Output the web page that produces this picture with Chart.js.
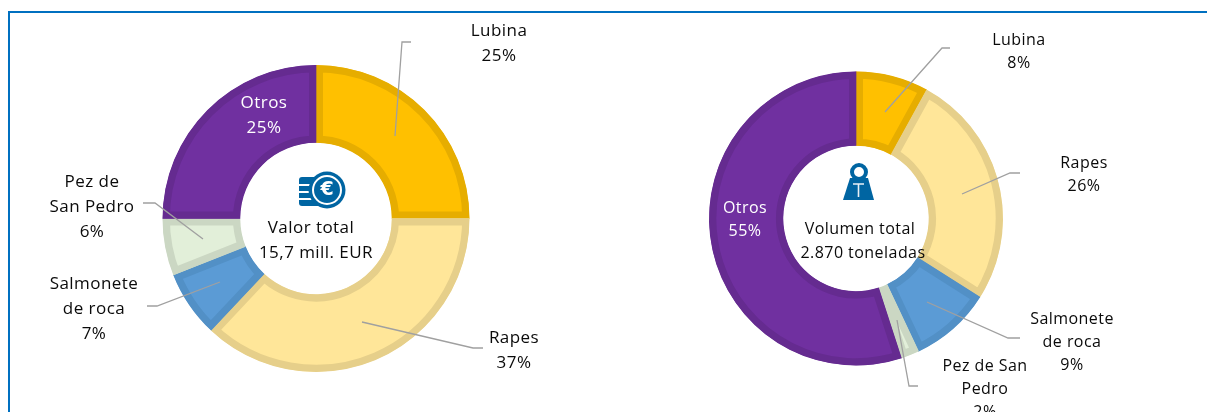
<!DOCTYPE html>
<html><head><meta charset="utf-8">
<script src="https://cdn.jsdelivr.net/npm/chart.js@4"></script>
<style>
html,body{margin:0;padding:0;background:#fff;overflow:hidden;width:1207px;height:412px}
#frame{position:absolute;left:8px;top:11px;right:-4px;bottom:-4px;border:2px solid #0070C0}
canvas{position:absolute;top:0}
#wa{position:absolute;left:0;top:0;width:604px;height:412px}
#wb{position:absolute;left:604px;top:0;width:603px;height:412px}
</style></head><body>
<div id="frame"></div>
<div id="wa"><canvas id="a"></canvas></div>
<div id="wb"><canvas id="b"></canvas></div>
<script>
const categories = ["Lubina","Rapes","Salmonete de roca","Pez de San Pedro","Otros"];
const valorValues = [25,37,7,6,25];
const volumenValues = [8,26,9,2,55];
const fillColors = ["#FFC000","#FFE699","#5B9BD5","#E2EFD9","#7030A0"];
const edgeColors = ["#E6AD00","#E6CF8A","#5290C6","#CBD7C3","#652B90"];
const valorLines = [["Lubina"],["Rapes"],["Salmonete","de roca"],["Pez de","San Pedro"],["Otros"]];
const volumenLines = [["Lubina"],["Rapes"],["Salmonete","de roca"],["Pez de San","Pedro"],["Otros"]];
const valorCentre = ["Valor total","15,7 mill. EUR"];
const volumenCentre = ["Volumen total","2.870 toneladas"];
const FONT = '"Open Sans","Noto Sans",sans-serif';

function blue(ctx){ctx.fillStyle="#0065A2";}
function euroIcon(ctx){
  blue(ctx);
  ctx.beginPath();ctx.roundRect(299,177,26,29,3);ctx.fill();
  ctx.fillStyle="#fff";
  [184,191,198].forEach(y=>{ctx.fillRect(299,y,13,2);});
  blue(ctx);ctx.beginPath();ctx.arc(327,190,18.5,0,7);ctx.fill();
  ctx.strokeStyle="#fff";ctx.lineWidth=2;ctx.beginPath();ctx.arc(327,190,14,0,7);ctx.stroke();
  ctx.fillStyle="#fff";ctx.font='bold 19px "DejaVu Sans"';ctx.textAlign="center";ctx.textBaseline="middle";
  ctx.letterSpacing="0px";
  ctx.fillText("€",327,190);
}
function weightIcon(ctx,ox){
  const x=v=>v-ox;
  blue(ctx);ctx.strokeStyle="#0065A2";ctx.lineWidth=4;
  ctx.beginPath();ctx.arc(x(859),172,7,0,7);ctx.stroke();
  ctx.beginPath();ctx.moveTo(x(850),178);ctx.lineTo(x(868),178);ctx.lineTo(x(874),200);ctx.lineTo(x(843),200);ctx.closePath();ctx.fill();
  ctx.strokeStyle="#E8F0F6";ctx.lineWidth=1.6;
  ctx.beginPath();ctx.moveTo(x(853),184);ctx.lineTo(x(864),184);ctx.moveTo(x(858.5),184);ctx.lineTo(x(858.5),197);ctx.stroke();
}
const decor = {
  id:"decor",
  afterDraw(chart,_a,o){
    const ctx=chart.ctx;ctx.save();
    ctx.strokeStyle="#A0A0A0";ctx.lineWidth=1.3;
    o.leaders.forEach(l=>{ctx.beginPath();l.forEach((p,i)=>{const X=p[0]-o.ox;i?ctx.lineTo(X,p[1]):ctx.moveTo(X,p[1]);});ctx.stroke();});
    ctx.textAlign="center";ctx.textBaseline="alphabetic";ctx.font=o.size+"px "+FONT;ctx.letterSpacing="0.45px";
    o.texts.forEach(t=>{ctx.fillStyle=t.color||"#0a0a0a";t.lines.forEach((s,i)=>ctx.fillText(s,t.x-o.ox,t.y+i*o.lead));});
    o.icon(ctx,o.ox);
    ctx.restore();
  }
};
function donut(id,values,radius,cut,padding,opt){
  return new Chart(document.getElementById(id),{
    type:"doughnut",
    data:{labels:categories,datasets:[{data:values,backgroundColor:fillColors,borderColor:edgeColors,borderWidth:7,borderAlign:"inner",borderJoinStyle:"miter",hoverOffset:0}]},
    options:{responsive:true,maintainAspectRatio:false,animation:false,radius:radius,cutout:cut,rotation:0,
      layout:{padding:padding},events:[],
      plugins:{legend:{display:false},tooltip:{enabled:false},decor:opt}},
    plugins:[decor]
  });
}
function pct(lines,v){return lines.concat(v+"%");}
donut("a",valorValues,153.5,75.5,{left:163,right:604-469,top:65,bottom:40},{
  ox:0,size:17,lead:25,icon:euroIcon,
  leaders:[[[395,136],[402,42],[411,42]],[[362,322],[473,348],[483,348]],[[220,282],[157,306],[147,306]],[[203,239],[155,203],[143,203]]],
  texts:[
    {lines:pct(valorLines[0],valorValues[0]),x:499,y:36},
    {lines:pct(valorLines[1],valorValues[1]),x:514,y:343},
    {lines:pct(valorLines[2],valorValues[2]),x:94,y:289},
    {lines:pct(valorLines[3],valorValues[3]),x:92,y:187},
    {lines:pct(valorLines[4],valorValues[4]),x:264,y:108,color:"#fff"},
    {lines:[valorCentre[0]],x:311,y:233},
    {lines:[valorCentre[1]],x:316,y:258}
  ]});
donut("b",volumenValues,147,72.5,{left:709-604,right:1207-1003,top:72,bottom:412-365},{
  ox:604,size:16,lead:23,icon:weightIcon,
  leaders:[[[885,112],[942,48],[950,48]],[[962,194],[1010,173],[1020,173]],[[927,302],[1008,338],[1020,338]],[[897,320],[909,386],[918,386]]],
  texts:[
    {lines:pct(volumenLines[0],volumenValues[0]),x:1019,y:45},
    {lines:pct(volumenLines[1],volumenValues[1]),x:1084,y:168},
    {lines:pct(volumenLines[2],volumenValues[2]),x:1072,y:324},
    {lines:pct(volumenLines[3],volumenValues[3]),x:985,y:371},
    {lines:pct(volumenLines[4],volumenValues[4]),x:745,y:213,color:"#fff"},
    {lines:[volumenCentre[0]],x:860,y:234},
    {lines:[volumenCentre[1]],x:863,y:258}
  ]});
</script>
</body></html>
